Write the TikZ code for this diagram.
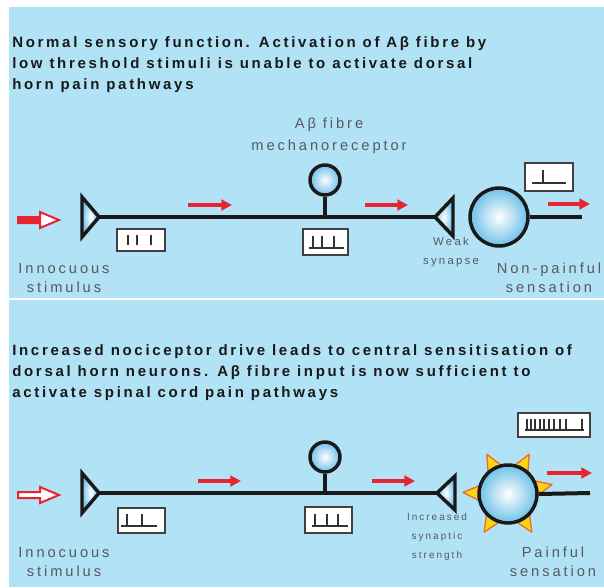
\documentclass[tikz,border=0pt]{standalone}
\usepackage{fontspec}
\setmainfont{Liberation Sans}
\newfontfamily\headfont[LetterSpace=18]{Liberation Sans}
\newfontfamily\tagfont[LetterSpace=20]{Liberation Sans}
\usetikzlibrary{arrows.meta}
\definecolor{panelblue}{RGB}{178,226,246}
\definecolor{cellblue}{RGB}{110,192,232}
\definecolor{signalred}{RGB}{232,36,48}
\definecolor{tagtext}{RGB}{88,88,96}
\definecolor{thornyellow}{RGB}{250,214,20}
\definecolor{thornorange}{RGB}{236,110,40}
\tikzset{
  panel/.style={fill=panelblue,draw=none},
  head/.style={anchor=north west,align=left,inner sep=0pt,text=black!90,
    font=\headfont\bfseries\fontsize{11.25}{15.75}\selectfont},
  tag/.style={align=center,text=tagtext,font=\tagfont\fontsize{11}{14.25}\selectfont},
  smalltag/.style={align=center,text=tagtext,font=\tagfont\fontsize{7.5}{14}\selectfont},
  cell/.style={circle,draw=black!90,line width=2.6pt,inner sep=0pt,
    inner color=white,outer color=cellblue},
  axon/.style={line width=3pt,black!90},
  ending/.style={line width=2.6pt,draw=black!90,line join=miter,
    inner color=white,outer color=cellblue},
  trace/.style={draw=black!75,line width=1.5pt,fill=white,inner sep=0pt},
  spike/.style={black!80,line width=1pt},
  signal/.style={signalred,line width=3pt,-{Triangle[length=8pt,width=8pt]}},
  stim/.style={draw=signalred,line width=1.5pt,fill=white},
  thorn/.style={fill=thornyellow,draw=thornorange,line width=1pt,line join=round}
}
\begin{document}
\begin{tikzpicture}[x=0.75pt,y=-0.75pt]
  \useasboundingbox (0,0) rectangle (604,587);
  \fill[panel] (9,7) rectangle (604,298);
  \fill[panel] (9,300) rectangle (604,587);

  % normal sensory function
  \node[head] (t1) at (12,36) {Normal sensory function. Activation of Aβ fibre by\\
    low threshold stimuli is unable to activate dorsal\\horn pain pathways};
  \coordinate (pe1) at (99,217);
  \coordinate (sy1) at (435,217);
  \coordinate (out1) at (582,217);
  \node[cell,minimum size=22.5pt] (mr1) at (325,180) {};
  \node[cell,minimum size=43.5pt] (dh1) at (499,217) {};
  \draw[axon] (pe1) -- (sy1);
  \draw[axon] (mr1.south) -- (mr1.south |- pe1);
  \draw[axon] (dh1.east) -- (out1);
  \draw[ending] (pe1) -- ++(-17,-20) -- ++(0,40) -- cycle;
  \draw[ending] (sy1) -- ++(18,-19) -- ++(0,38) -- cycle;
  \coordinate (in1) at (18,220);
  \draw[stim] (in1) ++(0,-3) -- ++(22,0) -- ++(0,-5) -- ++(19,8) -- ++(-19,8)
    -- ++(0,-5) -- ++(-22,0) -- cycle;
  \fill[signalred] (in1) ++(0,-3) rectangle ++(23,6);
  \draw[signal] (188,205) -- (232,205);
  \draw[signal] (365,205) -- (408,205);
  \draw[signal] (548,204) -- (590,204);
  \node[trace,minimum width=36pt,minimum height=16.5pt] (sp1) at (141,240) {};
  \node[trace,minimum width=33.75pt,minimum height=19.5pt] (sp2) at (325,242) {};
  \node[trace,minimum width=36pt,minimum height=21pt] (sp3) at (549,177) {};
  \begin{scope}[shift={(sp1.center)}]
    \foreach \s in {-13,-4,10} \draw[spike] (\s,5) -- (\s,-5);
  \end{scope}
  \begin{scope}[shift={(sp2.center)}]
    \draw[spike] (-16,6) -- (19,6);
    \foreach \s in {-12,-3,9} \draw[spike] (\s,6) -- (\s,-6);
  \end{scope}
  \begin{scope}[shift={(sp3.center)}]
    \draw[spike] (-17,6) -- (17,6);
    \draw[spike] (-6,6) -- (-6,-7);
  \end{scope}
  \node[tag] (ab1) at (329,136) {Aβ fibre\\[2pt]mechanoreceptor};
  \node[tag] (st1) at (64,278) {Innocuous\\stimulus};
  \node[smalltag,font=\tagfont\fontsize{8.5}{14.25}\selectfont] (ws1) at (451,252) {Weak\\synapse};
  \node[tag] (ns1) at (549,278) {Non-painful\\sensation};

  % central sensitisation
  \node[head] (t2) at (12,344) {Increased nociceptor drive leads to central sensitisation of\\
    dorsal horn neurons. Aβ fibre input is now sufficient to\\activate spinal cord pain pathways};
  \coordinate (pe2) at (99,493);
  \coordinate (sy2) at (437,493);
  \coordinate (out2) at (590,493);
  \coordinate (c2) at (508,494);
  \begin{scope}[shift={(c2)},yscale=-1]
    \foreach \a in {12,62,118,178,238,302}
      \draw[thorn] (\a-19:27) -- (\a:45) -- (\a+19:27) -- cycle;
  \end{scope}
  \node[cell,minimum size=22.5pt] (mr2) at (325,457) {};
  \node[cell,minimum size=43.5pt] (dh2) at (c2) {};
  \draw[axon] (pe2) -- (sy2);
  \draw[axon] (mr2.south) -- (mr2.south |- pe2);
  \draw[axon] (dh2.east) -- (out2);
  \draw[ending] (pe2) -- ++(-17,-20) -- ++(0,40) -- cycle;
  \draw[ending] (sy2) -- ++(18,-17) -- ++(0,34) -- cycle;
  \coordinate (in2) at (18,495);
  \draw[stim] (in2) ++(0,-3) -- ++(22,0) -- ++(0,-5) -- ++(19,8) -- ++(-19,8)
    -- ++(0,-5) -- ++(-22,0) -- cycle;
  \draw[signal] (198,481) -- (241,481);
  \draw[signal] (372,481) -- (415,481);
  \draw[signal] (547,473) -- (592,473);
  \node[trace,minimum width=35.25pt,minimum height=18.75pt] (sp4) at (141,520) {};
  \node[trace,minimum width=35.25pt,minimum height=19.5pt] (sp5) at (328,520) {};
  \node[trace,minimum width=54pt,minimum height=18pt] (sp6) at (554,425) {};
  \begin{scope}[shift={(sp4.center)}]
    \draw[spike] (-20,6) -- (16,6);
    \foreach \s in {-14,1} \draw[spike] (\s,6) -- (\s,-6);
  \end{scope}
  \begin{scope}[shift={(sp5.center)}]
    \draw[spike] (-16,6) -- (20,6);
    \foreach \s in {-13,-1,10} \draw[spike] (\s,6) -- (\s,-6);
  \end{scope}
  \begin{scope}[shift={(sp6.center)}]
    \draw[spike] (-29,5) -- (30,5);
    \foreach \s in {-27,-23,-19,-14,-10,-5,0,6,12,28} \draw[spike] (\s,5) -- (\s,-6);
  \end{scope}
  \node[tag] (st2) at (64,562) {Innocuous\\stimulus};
  \node[smalltag] (is2) at (437,537) {Increased\\synaptic\\strength};
  \node[tag] (ps2) at (553,562) {Painful\\sensation};
\end{tikzpicture}
\end{document}
